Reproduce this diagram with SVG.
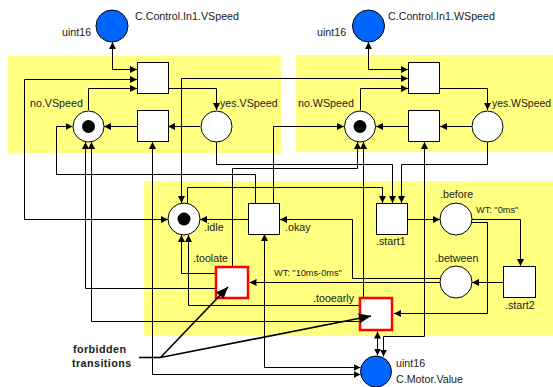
<svg xmlns="http://www.w3.org/2000/svg" width="553" height="387" viewBox="0 0 553 387">
<style>
.bg{fill:#ffff80}
.place{fill:#fff;stroke:#000;stroke-width:1}
.trans{fill:#fff;stroke:#000;stroke-width:1}
.forb{fill:#fff;stroke:#ff0000;stroke-width:2.5}
.ext{fill:#0066ff;stroke:#000;stroke-width:1}
.token{fill:#000}
.conn path{fill:none;stroke:#000;stroke-width:1;marker-end:url(#ah)}
.conn path.both{marker-start:url(#ahs)}
.note path{fill:none;stroke:#000;stroke-width:1.6}
.note path.arr{marker-end:url(#big)}
text{font-family:"Liberation Sans",Arial,sans-serif;font-size:10.7px;fill:#222}
text.wt{font-size:9.2px}
text.bold{font-weight:bold;font-size:10.8px;letter-spacing:0.4px}
</style>
<defs>
<marker id="ah" markerUnits="userSpaceOnUse" markerWidth="8" markerHeight="8" refX="7" refY="3.5" orient="auto"><path d="M0,0 L7,3.5 L0,7 z" fill="#000"/></marker>
<marker id="ahs" markerUnits="userSpaceOnUse" markerWidth="8" markerHeight="8" refX="7" refY="3.5" orient="auto-start-reverse"><path d="M0,0 L7,3.5 L0,7 z" fill="#000"/></marker>
<marker id="big" markerUnits="userSpaceOnUse" markerWidth="13" markerHeight="11" refX="12" refY="5" orient="auto"><path d="M0,0 L12,5 L0,10 z" fill="#000"/></marker>
</defs>
<g id="background">
<rect class="bg" x="8" y="56" width="273" height="97"/>
<rect class="bg" x="296" y="55" width="257" height="97"/>
<rect class="bg" x="144" y="181" width="409" height="155"/>
</g>
<g id="connectors" class="conn">
<path class="both" d="M112.5,42 V69.5 H137"/>
<path class="both" d="M168,219.5 H24.5 V79.5 H137"/>
<path d="M88.5,110 V88.5 H137"/>
<path d="M168,88.5 H216.5 V110"/>
<path d="M200,126.5 H168"/>
<path d="M137,126.5 H104"/>
<path class="both" d="M152.5,142 V374.5 H360.5"/>
<path class="both" d="M181.5,203 V78.5 H408"/>
<path class="both" d="M368.5,42 V69.5 H408"/>
<path d="M360.5,110 V88.5 H408"/>
<path d="M440,88.5 H487.5 V110"/>
<path d="M472,126.5 H440"/>
<path d="M408,126.5 H376"/>
<path class="both" d="M424.5,142 V336.5 H383.5 V356.5"/>
<path d="M255.5,203 V174.5 H56.5 V126.5 H72.5"/>
<path d="M273.5,203 V126.5 H344"/>
<path d="M248,219.5 H200"/>
<path class="both" d="M264.5,234 V367.5 H360.5"/>
<path d="M440,278.5 H352.5 V219.5 H280"/>
<path d="M440.5,282.5 H249.5"/>
<path d="M215,273.5 H181.5 V235"/>
<path d="M359,305.5 H188.5 V235"/>
<path d="M215,288.5 H85.5 V142"/>
<path d="M359,321.5 H91.5 V142"/>
<path d="M232.5,266 V168.5 H357.5 V142"/>
<path d="M363.5,297 V142"/>
<path d="M187.5,203 V187.5 H382.5 V203"/>
<path d="M216.5,142 V164.5 H392.5 V203"/>
<path d="M487.5,142 V164.5 H401.5 V203"/>
<path d="M408,219.5 H440"/>
<path d="M472,219.5 H520.5 V266"/>
<path d="M471.5,222.5 H487.5 V313.5 H394"/>
<path d="M503,282.5 H472"/>
<path class="both" d="M377.5,331.5 V355.5"/>
</g>
<g id="ext_vspeed"><circle class="ext" cx="112" cy="26" r="16"/><text x="135" y="20">C.Control.In1.VSpeed</text><text x="62" y="36">uint16</text></g>
<g id="ext_wspeed"><circle class="ext" cx="368.5" cy="26" r="16"/><text x="388" y="20">C.Control.In1.WSpeed</text><text x="317" y="36">uint16</text></g>
<g id="ext_motor"><circle class="ext" cx="376" cy="371.5" r="15.5"/><text x="396" y="367">uint16</text><text x="396" y="383">C.Motor.Value</text></g>
<g id="v_set"><rect class="trans" x="137.5" y="62.5" width="31" height="31"/></g>
<g id="v_reset"><rect class="trans" x="137.5" y="110.5" width="31" height="31"/></g>
<g id="no_vspeed"><circle class="place" cx="88.5" cy="126.5" r="15.5"/><circle class="token" cx="88.5" cy="126.5" r="6.5"/><text x="30" y="107">no.VSpeed</text></g>
<g id="yes_vspeed"><circle class="place" cx="216.5" cy="126.5" r="15.5"/><text x="220" y="107">yes.VSpeed</text></g>
<g id="w_set"><rect class="trans" x="408.5" y="62.5" width="31" height="31"/></g>
<g id="w_reset"><rect class="trans" x="408.5" y="110.5" width="31" height="31"/></g>
<g id="no_wspeed"><circle class="place" cx="360" cy="126.5" r="15.5"/><circle class="token" cx="360" cy="126.5" r="6.5"/><text x="298" y="107">no.WSpeed</text></g>
<g id="yes_wspeed"><circle class="place" cx="487.5" cy="126.5" r="15.5"/><text x="492" y="107" textLength="59" lengthAdjust="spacingAndGlyphs">yes.WSpeed</text></g>
<g id="idle"><circle class="place" cx="184" cy="219" r="16"/><circle class="token" cx="184" cy="219" r="6.5"/><text x="204" y="231">.idle</text></g>
<g id="okay"><rect class="trans" x="248.5" y="203.5" width="31" height="31"/><text x="285" y="231">.okay</text></g>
<g id="start1"><rect class="trans" x="376.5" y="203.5" width="31" height="31"/><text x="376" y="245">.start1</text></g>
<g id="before"><circle class="place" cx="456" cy="219" r="16"/><text x="440" y="198">.before</text><text class="wt" x="476" y="213">WT: "0ms"</text></g>
<g id="between"><circle class="place" cx="456" cy="282" r="16"/><text x="435" y="262">.between</text></g>
<g id="start2"><rect class="trans" x="503.5" y="266.5" width="32" height="31"/><text x="505" y="309">.start2</text></g>
<g id="toolate"><rect class="forb" x="216" y="267" width="32" height="31"/><text x="193" y="262">.toolate</text><text class="wt" x="274" y="276">WT: "10ms-0ms"</text></g>
<g id="tooearly"><rect class="forb" x="360" y="298" width="32" height="32"/><text x="313" y="302">.tooearly</text></g>
<g id="note" class="note">
<text class="bold" x="73" y="353">forbidden</text>
<text class="bold" x="72" y="367">transitions</text>
<path d="M139,357.5 H160.5"/>
<path class="arr" d="M160.5,357.5 L228,287"/>
<path class="arr" d="M160.5,357.5 L371,316"/>
</g>
</svg>
